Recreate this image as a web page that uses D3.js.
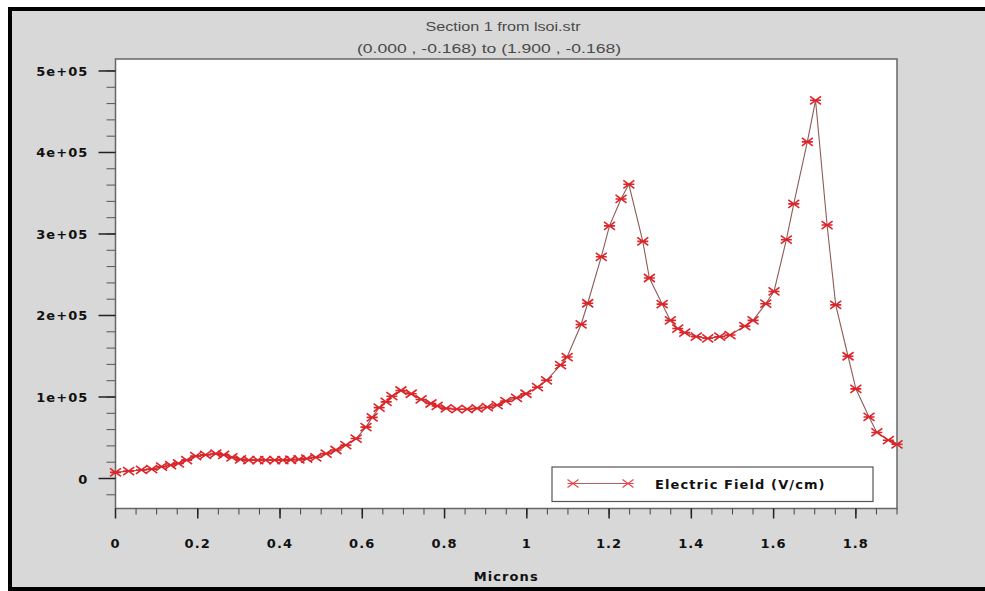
<!DOCTYPE html>
<html>
<head>
<meta charset="utf-8">
<script src="https://cdn.jsdelivr.net/npm/d3@7"></script>
<style>
  body { margin: 0; background: #fff; }
  .tickLabel { font-family: "DejaVu Sans", sans-serif; font-weight: bold; font-size: 13px; fill: #111; letter-spacing: 1.1px; }
  .title { font-family: "Liberation Sans", Arial, sans-serif; font-size: 12px; fill: #4a4a4a; }
</style>
</head>
<body>
<div id="chart"></div>
<script>
"use strict";

// position along the section (microns)
let microns = [
  0.000, 0.032, 0.063, 0.088, 0.112, 0.134, 0.153, 0.173, 0.195, 0.219,
  0.244, 0.263, 0.283, 0.304, 0.324, 0.346, 0.365, 0.387, 0.407, 0.426,
  0.446, 0.465, 0.487, 0.512, 0.536, 0.560, 0.585, 0.609, 0.624, 0.641,
  0.658, 0.672, 0.694, 0.719, 0.743, 0.767, 0.782, 0.804, 0.830, 0.855,
  0.879, 0.904, 0.928, 0.949, 0.975, 0.998, 1.026, 1.048, 1.082, 1.098,
  1.132, 1.148, 1.181, 1.201, 1.229, 1.248, 1.282, 1.298, 1.329, 1.349,
  1.367, 1.384, 1.412, 1.440, 1.469, 1.494, 1.530, 1.550, 1.581, 1.601,
  1.631, 1.649, 1.682, 1.702, 1.730, 1.751, 1.781, 1.800, 1.832, 1.851,
  1.879, 1.900
];

// electric field (V/cm)
let field = [
  7500, 9000, 10500, 11500, 14500, 16500, 18500, 22500, 27500, 29000,
  30500, 29000, 26000, 23500, 22500, 22500, 22500, 22500, 22500, 23000,
  23500, 24500, 26000, 30500, 35000, 41000, 49000, 63000, 75000, 87000,
  94000, 101000, 108000, 104000, 97000, 92000, 89000, 86000, 85000, 85000,
  86000, 87500, 90000, 95000, 99000, 104000, 112000, 120500, 139000, 149000,
  189000, 215000, 272000, 310000, 343000, 361000, 291000, 246000, 214000, 194000,
  184000, 179000, 174000, 172000, 174000, 176000, 187000, 194000, 214500, 229500,
  293000, 337000, 413000, 464000, 311000, 213000, 150000, 110000, 75500, 56500,
  47000, 42000
];

let titleLines = ["Section 1 from lsoi.str", "(0.000 , -0.168) to (1.900 , -0.168)"];
let xTickValues = [0, 0.2, 0.4, 0.6, 0.8, 1, 1.2, 1.4, 1.6, 1.8];
let yTickValues = [0, 100000, 200000, 300000, 400000, 500000];
let yTickLabels = ["0", "1e+05", "2e+05", "3e+05", "4e+05", "5e+05"];
let xLabel = "Microns";
let seriesName = "Electric Field (V/cm)";

let width = 985;
let height = 591;

let margin = {
  top: 59,
  bottom: 82.5,
  left: 115.5,
  right: 88
};

let svg = d3.select("#chart")
  .append("svg")
  .attr("width", width)
  .attr("height", height)
  .attr("viewBox", [0, 0, width, height].join(" "));

// outer frame
svg.append("rect")
  .attr("x", 10)
  .attr("y", 9)
  .attr("width", width + 10)
  .attr("height", 580)
  .attr("fill", "#d8d8d8")
  .attr("stroke", "#000")
  .attr("stroke-width", 4);

let xScale = d3.scaleLinear()
  .domain([0, 1.9])
  .range([margin.left, width - margin.right]);

let yScale = d3.scaleLinear()
  .domain([-36800, 514700])
  .range([height - margin.bottom, margin.top]);

// plot area
svg.append("rect")
  .attr("x", margin.left)
  .attr("y", margin.top)
  .attr("width", width - margin.right - margin.left)
  .attr("height", height - margin.bottom - margin.top)
  .attr("fill", "#fff")
  .attr("stroke", "#666")
  .attr("stroke-width", 1.5);

// titles (the source picture is stretched sideways)
let titleLayout = [
  {cx: 503, y: 31, len: 155},
  {cx: 489, y: 52.5, len: 264}
];

svg.selectAll(".title")
  .data(titleLines)
  .enter().append("text")
  .attr("class", "title")
  .attr("x", (d, i) => titleLayout[i].cx - titleLayout[i].len / 2)
  .attr("y", (d, i) => titleLayout[i].y)
  .attr("textLength", (d, i) => titleLayout[i].len)
  .attr("lengthAdjust", "spacingAndGlyphs")
  .text(d => d);

// x axis
let xMinor = d3.range(0, 1.9001, 0.05);
let xAxisG = svg.append("g")
  .attr("transform", "translate(0, " + (height - margin.bottom) + ")");

xAxisG.selectAll(".minor")
  .data(xMinor)
  .enter().append("line")
  .attr("x1", d => xScale(d))
  .attr("x2", d => xScale(d))
  .attr("y1", 0)
  .attr("y2", 6)
  .attr("stroke", "#444")
  .attr("stroke-width", 1);

xAxisG.selectAll(".major")
  .data(xTickValues)
  .enter().append("line")
  .attr("x1", d => xScale(d))
  .attr("x2", d => xScale(d))
  .attr("y1", 0)
  .attr("y2", 10)
  .attr("stroke", "#222")
  .attr("stroke-width", 1.5);

xAxisG.selectAll(".tickLabel")
  .data(xTickValues)
  .enter().append("text")
  .attr("class", "tickLabel")
  .attr("x", d => xScale(d))
  .attr("y", 39)
  .attr("text-anchor", "middle")
  .text(d => d3.format("~g")(d));

svg.append("text")
  .attr("class", "tickLabel")
  .attr("x", (margin.left + width - margin.right) / 2)
  .attr("y", 581)
  .attr("text-anchor", "middle")
  .text(xLabel);

// y axis
let yMinor = d3.range(-20000, 510001, 20000);
let yAxisG = svg.append("g")
  .attr("transform", "translate(" + margin.left + ", 0)");

yAxisG.selectAll(".minor")
  .data(yMinor)
  .enter().append("line")
  .attr("x1", -9)
  .attr("x2", 0)
  .attr("y1", d => yScale(d))
  .attr("y2", d => yScale(d))
  .attr("stroke", "#555")
  .attr("stroke-width", 1);

yAxisG.selectAll(".major")
  .data(yTickValues)
  .enter().append("line")
  .attr("x1", -17)
  .attr("x2", 0)
  .attr("y1", d => yScale(d))
  .attr("y2", d => yScale(d))
  .attr("stroke", "#222")
  .attr("stroke-width", 1.5);

yAxisG.selectAll(".tickLabel")
  .data(yTickValues)
  .enter().append("text")
  .attr("class", "tickLabel")
  .attr("x", -27)
  .attr("y", d => yScale(d) + 5)
  .attr("text-anchor", "end")
  .text((d, i) => yTickLabels[i]);

// data line + markers
let points = microns.map((m, i) => [m, field[i]]);

let line = d3.line()
  .x(d => xScale(d[0]))
  .y(d => yScale(d[1]));

let markerPath = "M-5.5,-4L5.5,4M-5.5,4L5.5,-4M-5.5,0L5.5,0";

svg.append("path")
  .attr("d", line(points))
  .attr("fill", "none")
  .attr("stroke", "#8f5a5a")
  .attr("stroke-width", 1.1);

svg.append("g")
  .selectAll("path")
  .data(points)
  .enter().append("path")
  .attr("transform", d => "translate(" + xScale(d[0]) + ", " + yScale(d[1]) + ")")
  .attr("d", markerPath)
  .attr("fill", "none")
  .attr("stroke", "#dd2428")
  .attr("stroke-width", 1.6);

// legend
let legendG = svg.append("g")
  .attr("transform", "translate(552, 467)");

legendG.append("rect")
  .attr("width", 321)
  .attr("height", 34.5)
  .attr("fill", "#fff")
  .attr("stroke", "#555")
  .attr("stroke-width", 1.2);

legendG.append("line")
  .attr("x1", 21)
  .attr("x2", 76)
  .attr("y1", 16.5)
  .attr("y2", 16.5)
  .attr("stroke", "#b06060")
  .attr("stroke-width", 1);

legendG.selectAll(".legendMarker")
  .data([21, 76])
  .enter().append("path")
  .attr("transform", d => "translate(" + d + ", 16.5)")
  .attr("d", markerPath)
  .attr("fill", "none")
  .attr("stroke", "#e04a4e")
  .attr("stroke-width", 1.2);

legendG.append("text")
  .attr("class", "tickLabel")
  .attr("x", 103)
  .attr("y", 22)
  .text(seriesName);
</script>
</body>
</html>
